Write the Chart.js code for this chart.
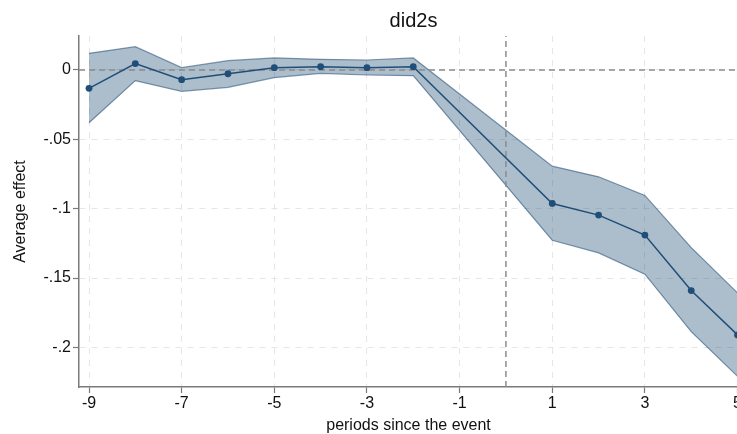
<!DOCTYPE html>
<html>
<head>
<meta charset="utf-8">
<script src="https://cdn.jsdelivr.net/npm/chart.js@4"></script>
<style>
  html, body { margin: 0; padding: 0; background: #ffffff; overflow: hidden; width: 737px; height: 434px; }
  canvas { display: block; }
</style>
</head>
<body>
<canvas id="c" width="743" height="434" style="width:743px;height:434px"></canvas>
<script>
// ---- data ----
const chartTitle = 'did2s';
const xAxisTitle = 'periods since the event';
const yAxisTitle = 'Average effect';
const periods  = [-9, -8, -7, -6, -5, -4, -3, -2, 1, 2, 3, 4, 5];
const estimate = [-0.0132, 0.0046, -0.0070, -0.0027, 0.0017, 0.0024, 0.0017, 0.0024, -0.0962, -0.1046, -0.1190, -0.1590, -0.1910];
const ciUpper  = [0.0120, 0.0168, 0.0017, 0.0067, 0.0087, 0.0077, 0.0072, 0.0087, -0.0693, -0.0770, -0.0904, -0.1280, -0.1607];
const ciLower  = [-0.0380, -0.0077, -0.0154, -0.0125, -0.0055, -0.0024, -0.0036, -0.0041, -0.1227, -0.1318, -0.1472, -0.1886, -0.2208];
const xTicks = [-9, -7, -5, -3, -1, 1, 3, 5];
const xTickLabels = ['-9', '-7', '-5', '-3', '-1', '1', '3', '5'];
const yTicks = [0, -0.05, -0.1, -0.15, -0.2];
const yTickLabels = ['0', '-.05', '-.1', '-.15', '-.2'];
const xRange = [-9.216, 5.01];
const yRange = [-0.2285, 0.0245];
const eventX = 0;
const zeroY = 0;

const FONT = "'Liberation Sans', Arial, Helvetica, sans-serif";
const navy = '#1f4e79';

const pts = (ys) => periods.map((x, i) => ({ x: x, y: ys[i] }));

const titlePlugin = {
  id: 'centerTitle',
  afterDraw(chart) {
    const { ctx, chartArea } = chart;
    ctx.save();
    ctx.font = '20px ' + FONT;
    ctx.fillStyle = '#111';
    ctx.textAlign = 'center';
    ctx.textBaseline = 'alphabetic';
    ctx.fillText(chartTitle, (chartArea.left + chartArea.right) / 2 + 5, 27);
    ctx.restore();
  }
};

new Chart(document.getElementById('c'), {
  type: 'scatter',
  data: {
    datasets: [
      {
        label: 'estimate',
        data: pts(estimate),
        showLine: true,
        borderColor: navy,
        backgroundColor: navy,
        borderWidth: 1.5,
        pointRadius: 3.4,
        pointHoverRadius: 3.4,
        pointBorderWidth: 0,
        order: 0
      },
      {
        label: 'ref y',
        data: [{ x: xRange[0], y: zeroY }, { x: xRange[1], y: zeroY }],
        showLine: true,
        borderColor: '#8c8c8c',
        borderWidth: 1.5,
        borderDash: [6, 4],
        pointRadius: 0,
        order: 1
      },
      {
        label: 'ref x',
        data: [{ x: eventX, y: yRange[0] }, { x: eventX, y: yRange[1] }],
        showLine: true,
        borderColor: '#8c8c8c',
        borderWidth: 1.5,
        borderDash: [6, 4],
        pointRadius: 0,
        order: 1
      },
      {
        label: 'upper',
        data: pts(ciUpper),
        showLine: true,
        borderColor: 'rgba(26,71,111,0.55)',
        borderWidth: 1.2,
        backgroundColor: 'rgba(26,71,111,0.36)',
        pointRadius: 0,
        fill: '+1',
        order: 2
      },
      {
        label: 'lower',
        data: pts(ciLower),
        showLine: true,
        borderColor: 'rgba(26,71,111,0.55)',
        borderWidth: 1.2,
        pointRadius: 0,
        fill: false,
        order: 3
      }
    ]
  },
  options: {
    responsive: false,
    maintainAspectRatio: false,
    devicePixelRatio: 1,
    animation: false,
    layout: { padding: { top: 36, right: 0, bottom: 0, left: 0 } },
    plugins: {
      legend: { display: false },
      title: { display: false },
      tooltip: { enabled: false },
      filler: { propagate: false }
    },
    scales: {
      x: {
        type: 'linear',
        min: xRange[0],
        max: xRange[1],
        afterBuildTicks(scale) { scale.ticks = xTicks.map(v => ({ value: v })); },
        afterFit(scale) { scale.height = 47; },
        ticks: {
          autoSkip: false,
          maxRotation: 0,
          padding: 1,
          color: '#111',
          font: { family: FONT, size: 16 },
          callback(v) { const i = xTicks.indexOf(v); return i >= 0 ? xTickLabels[i] : ''; }
        },
        grid: {
          color: '#e6e6e6',
          lineWidth: 1,
          tickLength: 6,
          tickColor: '#7a7a7a',
          tickWidth: 1.2,
          tickBorderDash: []
        },
        border: { display: true, color: '#7a7a7a', width: 1.5, dash: [6, 6] },
        title: {
          display: true,
          text: xAxisTitle,
          color: '#111',
          font: { family: FONT, size: 16, lineHeight: 1 },
          padding: { top: 0, bottom: 0 }
        }
      },
      y: {
        type: 'linear',
        min: yRange[0],
        max: yRange[1],
        afterBuildTicks(scale) { scale.ticks = yTicks.map(v => ({ value: v })); },
        afterFit(scale) { scale.paddingTop = 0; scale.paddingBottom = 0; scale.width = 79; },
        ticks: {
          autoSkip: false,
          padding: 2,
          color: '#111',
          font: { family: FONT, size: 16 },
          callback(v) { const i = yTicks.findIndex(t => Math.abs(t - v) < 1e-9); return i >= 0 ? yTickLabels[i] : ''; }
        },
        grid: {
          color: '#e6e6e6',
          lineWidth: 1,
          tickLength: 6,
          tickColor: '#7a7a7a',
          tickWidth: 1.2,
          tickBorderDash: []
        },
        border: { display: true, color: '#7a7a7a', width: 1.5, dash: [6, 6] },
        title: {
          display: true,
          text: yAxisTitle,
          color: '#111',
          font: { family: FONT, size: 16, lineHeight: 1 },
          padding: { top: 13, bottom: 0 }
        }
      }
    }
  },
  plugins: [titlePlugin]
});
</script>
</body>
</html>
